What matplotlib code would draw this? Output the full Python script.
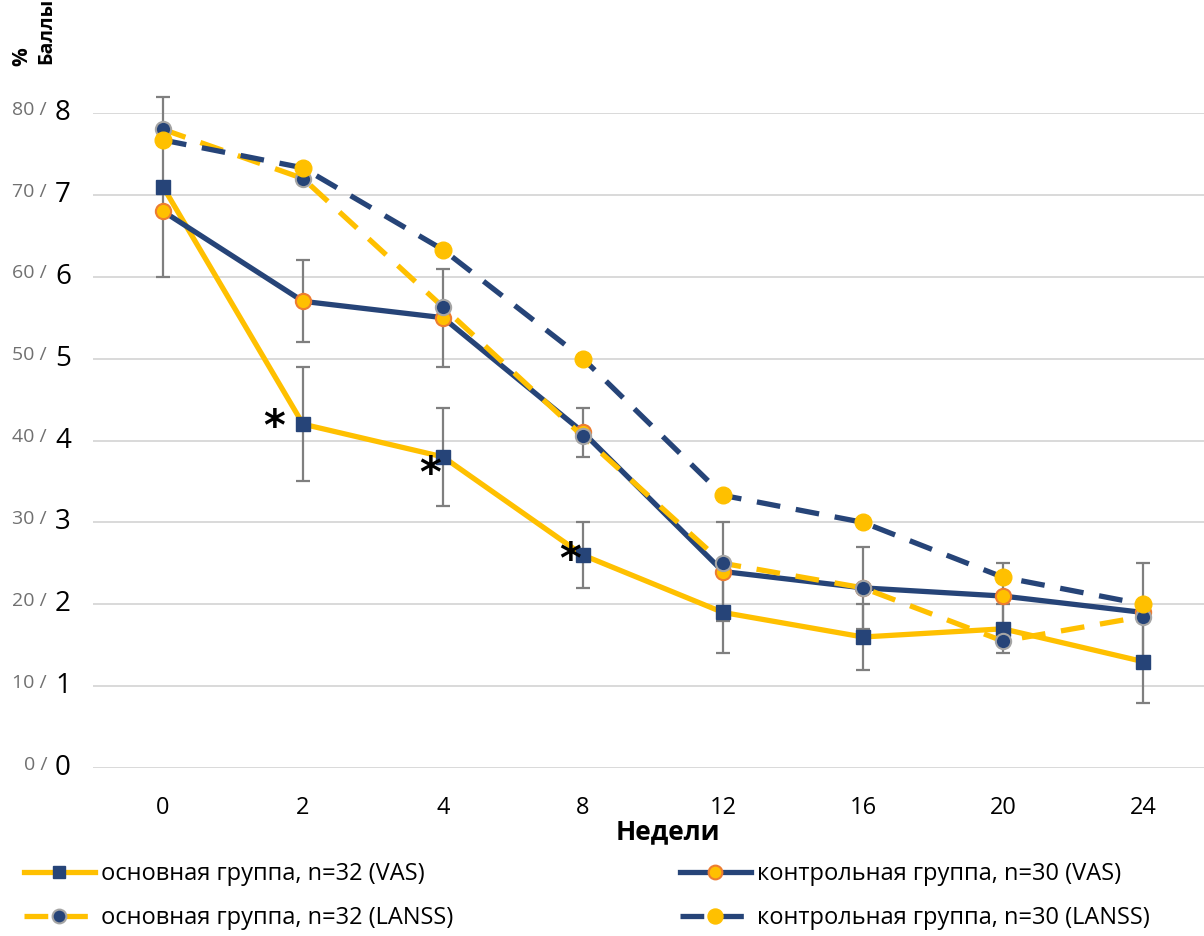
import matplotlib
matplotlib.use('Agg')
import matplotlib.pyplot as plt
import matplotlib.transforms as mtransforms
from matplotlib.lines import Line2D

plt.rcParams['font.family'] = ['Open Sans', 'DejaVu Sans']

YELLOW = '#FFC000'
NAVY = '#264478'
ORANGE = '#ED7D31'
GREY_EDGE = '#A5A5A5'
ERR = '#7F7F7F'

weeks = ['0', '2', '4', '8', '12', '16', '20', '24']

# scores (points), read per week
main_vas = [7.1, 4.2, 3.8, 2.6, 1.9, 1.6, 1.7, 1.3]
main_vas_err = [1.1, 0.7, 0.6, 0.4, 0.5, 0.4, 0.3, 0.5]
ctrl_vas = [6.8, 5.7, 5.5, 4.1, 2.4, 2.2, 2.1, 1.9]
ctrl_vas_err = [0.0, 0.5, 0.6, 0.3, 0.6, 0.5, 0.4, 0.6]
main_lanss = [7.8, 7.2, 5.63, 4.05, 2.5, 2.2, 1.55, 1.85]
ctrl_lanss = [7.67, 7.33, 6.33, 5.0, 3.33, 3.0, 2.33, 2.0]

# weeks with significant difference (marked with *)
star_idx = [1, 2, 3]
star_offsets = [(-21, -3), (-9, -13), (-9, -4)]

y_scores = [0, 1, 2, 3, 4, 5, 6, 7, 8]
y_percent = [0, 10, 20, 30, 40, 50, 60, 70, 80]

labels = ['основная группа, n=32 (VAS)', 'контрольная группа, n=30 (VAS)',
          'основная группа, n=32 (LANSS)', 'контрольная группа, n=30 (LANSS)']

W, H = 1204, 936
fig = plt.figure(figsize=(W / 100, H / 100), dpi=100)
ax = fig.add_axes([93 / W, (H - 768) / H, 1120 / W, (768 - 113) / H])
x = list(range(len(weeks)))

ax.set_xlim(-0.5, len(weeks) - 0.5)
ax.set_ylim(0, 8)
for sp in ax.spines.values():
    sp.set_visible(False)
ax.set_yticks(y_scores)
ax.yaxis.grid(True, color='#D9D9D9', lw=1.4)
ax.set_axisbelow(True)
ax.tick_params(axis='y', length=0, labelleft=False)
ax.tick_params(axis='x', length=0, labelsize=17, pad=20)
ax.set_xticks(x)
ax.set_xticklabels(weeks)

# error bars sit beneath the series lines
ek = dict(fmt='none', ecolor=ERR, elinewidth=1.6, capsize=5, capthick=1.6,
          zorder=2, clip_on=False)
ax.errorbar(x, main_vas, yerr=main_vas_err, **ek)
ax.errorbar(x[1:], ctrl_vas[1:], yerr=ctrl_vas_err[1:], **ek)

lw = 3.8
dash = (4.5, 3)
solid_main = dict(color=YELLOW, lw=lw, marker='s', ms=10, mfc=NAVY, mec=NAVY)
solid_ctrl = dict(color=NAVY, lw=lw, marker='o', ms=11, mfc=YELLOW, mec=ORANGE, mew=1.5)
dash_main = dict(color=YELLOW, lw=lw, dashes=dash, marker='o', ms=11, mfc=NAVY,
                 mec=GREY_EDGE, mew=1.5)
dash_ctrl = dict(color=NAVY, lw=lw, dashes=dash, marker='o', ms=12, mfc=YELLOW, mec=YELLOW)

ax.plot(x, main_vas, zorder=3, clip_on=False, **solid_main)
ax.plot(x, ctrl_vas, zorder=4, clip_on=False, **solid_ctrl)
ax.plot(x, main_lanss, zorder=5, clip_on=False, **dash_main)
ax.plot(x, ctrl_lanss, zorder=6, clip_on=False, **dash_ctrl)

for i, off in zip(star_idx, star_offsets):
    ax.annotate('*', (x[i], main_vas[i]), xytext=off, textcoords='offset points',
                ha='center', va='center', fontsize=30, color='black',
                family='DejaVu Sans', fontweight='bold', zorder=7)

# dual y labels: percent (grey) / points (black)
tr = mtransforms.blended_transform_factory(fig.transFigure, ax.transData)
for s, p in zip(y_scores, y_percent):
    fig.text(47 / W, s + 0.04, f'{p} /', transform=tr, ha='right', va='center',
             fontsize=14, color='#707070')
    fig.text(55 / W, s, f'{s}', transform=tr, ha='left', va='center',
             fontsize=20, color='black')

fig.text(22 / W, 1 - 57 / H, '%', rotation=90, ha='center', va='center',
         fontsize=15, fontweight='bold')
fig.text(46 / W, 1 - 31 / H, 'Баллы', rotation=90, ha='center', va='center',
         fontsize=14, fontweight='bold')

ax.set_xlabel('Недели', fontsize=19, fontweight='bold', labelpad=0, va='center')
ax.xaxis.set_label_coords((668 - 93) / 1120, -(832 - 768) / (768 - 113))


def handle(style):
    st = dict(style)
    st['ms'] = st['ms'] * 0.9
    return Line2D([], [], **st)


leg_kw = dict(frameon=False, fontsize=17, handlelength=3.0, handletextpad=0.25,
              labelspacing=0.85, borderpad=0, borderaxespad=0)
fig.legend([handle(solid_main), handle(dash_main)], [labels[0], labels[2]],
           loc='upper left', bbox_to_anchor=(24 / W, 1 - 862 / H), **leg_kw)
fig.legend([handle(solid_ctrl), handle(dash_ctrl)], [labels[1], labels[3]],
           loc='upper left', bbox_to_anchor=(680 / W, 1 - 862 / H), **leg_kw)

fig.savefig('out.png', dpi=100)
